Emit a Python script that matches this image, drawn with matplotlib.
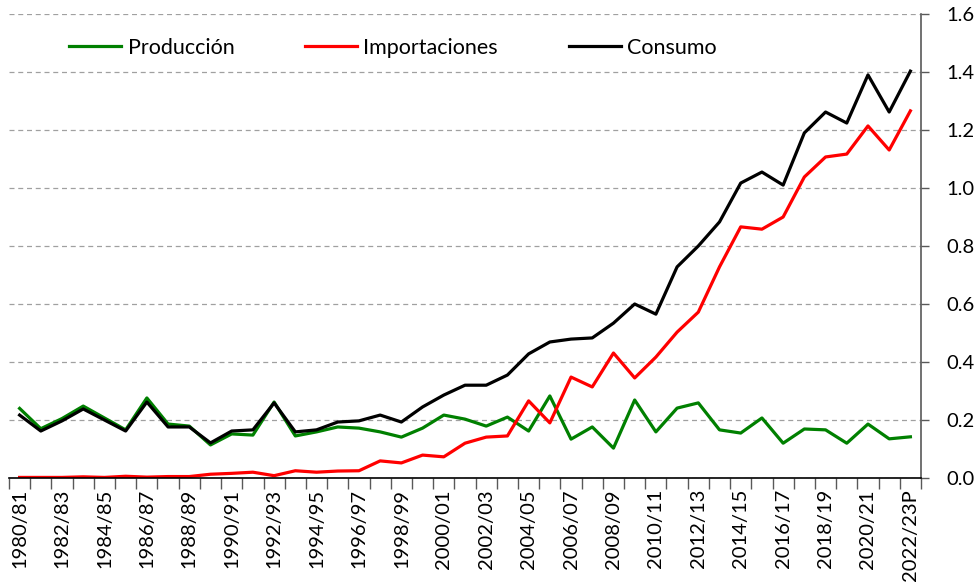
import numpy as np
import matplotlib
matplotlib.use('Agg')
import matplotlib.pyplot as plt
from matplotlib.ticker import FixedLocator, MultipleLocator

plt.rcParams['font.family'] = ['Lato', 'DejaVu Sans']

# campañas 1980/81 .. 2022/23P
campanas = [f"{y}/{(y + 1) % 100:02d}" for y in range(1980, 2023)]
campanas[-1] = campanas[-1] + "P"

produccion = [0.240, 0.170, 0.205, 0.248, 0.207, 0.166, 0.276, 0.186, 0.179, 0.114,
              0.152, 0.148, 0.262, 0.145, 0.159, 0.176, 0.172, 0.159, 0.141, 0.172,
              0.217, 0.203, 0.179, 0.210, 0.162, 0.283, 0.134, 0.176, 0.103, 0.269,
              0.159, 0.241, 0.259, 0.166, 0.155, 0.207, 0.120, 0.169, 0.166, 0.120,
              0.186, 0.135, 0.142]

importaciones = [0.002, 0.002, 0.002, 0.004, 0.002, 0.006, 0.003, 0.005, 0.005, 0.013,
                 0.016, 0.020, 0.008, 0.025, 0.020, 0.024, 0.025, 0.059, 0.052, 0.079,
                 0.073, 0.120, 0.141, 0.145, 0.266, 0.190, 0.348, 0.314, 0.431, 0.345,
                 0.417, 0.503, 0.572, 0.728, 0.866, 0.858, 0.900, 1.038, 1.107, 1.117,
                 1.214, 1.131, 1.266]

consumo = [0.217, 0.162, 0.197, 0.238, 0.200, 0.162, 0.262, 0.176, 0.176, 0.121,
           0.162, 0.166, 0.259, 0.159, 0.166, 0.193, 0.197, 0.217, 0.193, 0.245,
           0.286, 0.320, 0.320, 0.355, 0.428, 0.469, 0.479, 0.483, 0.534, 0.600,
           0.565, 0.728, 0.800, 0.883, 1.017, 1.055, 1.010, 1.190, 1.262, 1.224,
           1.390, 1.262, 1.403]


def plot_chart():
    x = np.arange(len(campanas))
    fig = plt.figure(figsize=(9.77, 5.88), dpi=100)
    ax = fig.add_axes([9 / 977, 1 - 478 / 588, 912 / 977, 464 / 588])

    ax.plot(x, produccion, color='#008000', lw=2.3, label='Producción')
    ax.plot(x, importaciones, color='#ff0000', lw=2.3, label='Importaciones')
    ax.plot(x, consumo, color='black', lw=2.3, label='Consumo')

    ax.set_xlim(-0.5, len(campanas) - 0.5)
    ax.set_ylim(0, 1.6)

    # y axis on the right
    ax.yaxis.tick_right()
    ax.yaxis.set_major_locator(MultipleLocator(0.2))
    ax.yaxis.set_major_formatter(matplotlib.ticker.FormatStrFormatter('%.1f'))
    ax.tick_params(axis='y', direction='out', length=6, width=1, color='#595959',
                   labelsize=14.5, pad=12)
    ax.grid(axis='y', color='#a0a0a0', linestyle=(0, (4, 3)), lw=0.9)

    # x axis: ticks between categories, labels every 2nd season
    ax.xaxis.set_major_locator(FixedLocator(x[::2]))
    ax.set_xticklabels(campanas[::2], rotation=90, fontsize=14.5)
    ax.xaxis.set_minor_locator(FixedLocator(np.arange(-0.5, len(campanas), 1)))
    ax.tick_params(axis='x', which='major', length=0, pad=8)
    ax.tick_params(axis='x', which='minor', length=8, width=1, color='#595959')

    for s in ['left', 'top']:
        ax.spines[s].set_visible(False)
    ax.spines['right'].set_color('#595959')
    ax.spines['right'].set_linewidth(1.2)
    ax.spines['bottom'].set_color('black')
    ax.spines['bottom'].set_linewidth(1.2)

    ax.legend(loc='upper left', bbox_to_anchor=(0.045, 0.99), ncol=3,
              frameon=False, fontsize=15.5, handlelength=2.4, handletextpad=0.3,
              columnspacing=3.3)

    fig.savefig('out.png', dpi=100)


if __name__ == "__main__":
    plot_chart()
